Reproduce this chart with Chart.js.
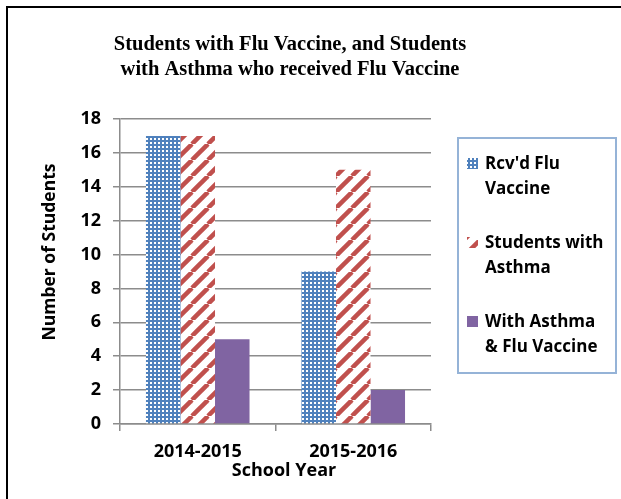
<!DOCTYPE html>
<html>
<head>
<meta charset="utf-8">
<script src="https://cdn.jsdelivr.net/npm/chart.js@4/dist/chart.umd.min.js"></script>
<style>
    html, body { margin: 0; padding: 0; background: #fff; overflow: hidden; }
    #frame { position: absolute; left: 6px; top: 6px; width: 700px; height: 700px; border: 2px solid #000; }
    #chart { position: absolute; left: 0; top: 0; }
</style>
</head>
<body>
<div id="frame"></div>
<canvas id="chart" width="621" height="499"></canvas>
<script>
const titleLines = ["Students with Flu Vaccine, and Students", "with Asthma who received Flu Vaccine"];
const schoolYears = ["2014-2015", "2015-2016"];
const rcvdFlu = [17, 9];
const withAsthma = [17, 15];
const asthmaAndFlu = [5, 2];
const seriesLabels = [["Rcv'd Flu", "Vaccine"], ["Students with", "Asthma"], ["With Asthma", "& Flu Vaccine"]];
const yTitle = "Number of Students";
const xTitle = "School Year";

const BLUE = "#4f81bd";
const RED = "#c0504d";
const PURPLE = "#8064a2";
const GRID = "#8c8c8c";
const FONT = "'Open Sans'";

function dotPattern() {
    const c = document.createElement("canvas");
    c.width = 4; c.height = 4;
    const g = c.getContext("2d");
    g.fillStyle = BLUE;
    g.fillRect(0, 0, 4, 4);
    g.fillStyle = "#fff";
    g.fillRect(2, 2, 2, 2);
    return g.createPattern(c, "repeat");
}

function stripePattern() {
    const s = 16;
    const c = document.createElement("canvas");
    c.width = s; c.height = s;
    const g = c.getContext("2d");
    g.fillStyle = "#fff";
    g.fillRect(0, 0, s, s);
    g.strokeStyle = RED;
    g.lineWidth = 4.5;
    [-s, 0, s].forEach(o => {
        g.beginPath();
        g.moveTo(o, s);
        g.lineTo(o + s, 0);
        g.stroke();
    });
    return g.createPattern(c, "repeat");
}

// title, axis titles and the boxed legend
const extras = {
    id: "extras",
    afterDraw(chart) {
        const ctx = chart.ctx;
        ctx.save();
        ctx.fillStyle = "#000";
        ctx.textAlign = "center";
        ctx.textBaseline = "middle";
        ctx.font = "bold 20.5px 'Liberation Serif'";
        titleLines.forEach((t, i) => ctx.fillText(t, 290, 45 + i * 25));

        ctx.font = "bold 18px " + FONT;
        ctx.fillText(xTitle, 284, 471);
        ctx.save();
        ctx.translate(50, 252);
        ctx.rotate(-Math.PI / 2);
        ctx.font = "bold 17.5px " + FONT;
        ctx.fillText(yTitle, 0, 0);
        ctx.restore();

        ctx.strokeStyle = "#95b3d7";
        ctx.lineWidth = 2;
        ctx.strokeRect(458, 138, 158, 235);

        ctx.textAlign = "left";
        ctx.font = "bold 17px " + FONT;
        chart.data.datasets.forEach((ds, i) => {
            const y = 164 + i * 79;
            ctx.fillStyle = ds.backgroundColor;
            ctx.fillRect(467, y - 6, 11, 11);
            ctx.fillStyle = "#000";
            seriesLabels[i].forEach((line, j) => ctx.fillText(line, 485, y + j * 25));
        });
        ctx.restore();
    }
};

new Chart(document.getElementById("chart"), {
    type: "bar",
    data: {
        labels: schoolYears,
        datasets: [
            { label: seriesLabels[0].join(" "), data: rcvdFlu, backgroundColor: dotPattern() },
            { label: seriesLabels[1].join(" "), data: withAsthma, backgroundColor: stripePattern() },
            { label: seriesLabels[2].join(" "), data: asthmaAndFlu, backgroundColor: PURPLE }
        ]
    },
    options: {
        responsive: false,
        animation: false,
        events: [],
        layout: { padding: { left: 0, top: 119, right: 190, bottom: 0 } },
        datasets: { bar: { categoryPercentage: 0.666, barPercentage: 1 } },
        plugins: { legend: { display: false }, title: { display: false }, tooltip: { enabled: false } },
        scales: {
            x: {
                grid: { offset: true, drawOnChartArea: false, drawTicks: true, tickLength: 7, color: GRID, lineWidth: 1.5 },
                border: { color: GRID, width: 1.5 },
                ticks: { color: "#000", font: { family: FONT, size: 18, weight: "bold" }, padding: 10 },
                afterFit(scale) { scale.height = 75; }
            },
            y: {
                min: 0,
                max: 18,
                ticks: { stepSize: 2, color: "#000", font: { family: FONT, size: 18, weight: "bold" }, padding: 12 },
                grid: { color: GRID, lineWidth: 1.5, tickLength: 7 },
                border: { color: GRID, width: 1.5 },
                afterFit(scale) { scale.width = 120; }
            }
        }
    },
    plugins: [extras]
});
</script>
</body>
</html>
